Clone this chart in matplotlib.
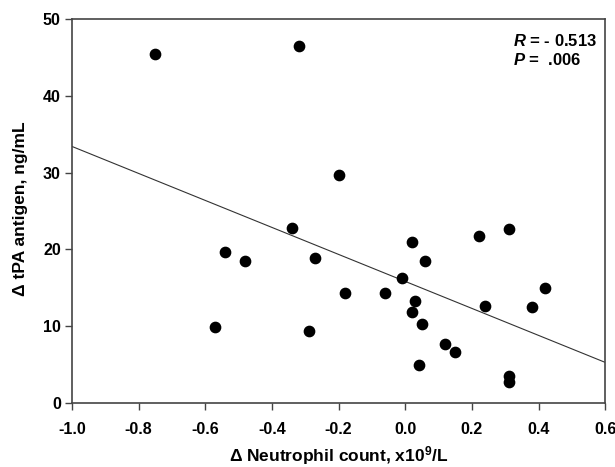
import matplotlib.pyplot as plt

plt.rcParams['font.family'] = ['Liberation Sans', 'DejaVu Sans']
plt.rcParams['font.weight'] = 'bold'
plt.rcParams['axes.unicode_minus'] = False
plt.rcParams['mathtext.fontset'] = 'custom'
plt.rcParams['mathtext.rm'] = 'Liberation Sans:bold'
plt.rcParams['mathtext.bf'] = 'Liberation Sans:bold'
plt.rcParams['mathtext.it'] = 'Liberation Sans:bold:italic'
plt.rcParams['mathtext.default'] = 'rm'

# delta neutrophil count (x10^9/L) vs delta tPA antigen (ng/mL)
neutrophil = [-0.75, -0.32, -0.34, -0.20, -0.54, -0.48, -0.57, -0.29, -0.27,
              0.02, 0.22, 0.31, 0.06, -0.01, -0.18, -0.06, 0.03, 0.02, 0.05,
              0.12, 0.15, 0.04, 0.31, 0.31, 0.24, 0.38, 0.42]
tpa = [45.5, 46.5, 22.7, 29.7, 19.6, 18.5, 9.9, 9.3, 18.9,
       20.9, 21.7, 22.6, 18.4, 16.2, 14.3, 14.3, 13.3, 11.8, 10.3,
       7.6, 6.6, 4.9, 3.5, 2.7, 12.6, 12.5, 15.0]

# regression line as printed
fit_intercept = 15.8
fit_slope = -17.6
x_range = [-1.0, 0.6]

x_ticks = [-1.0, -0.8, -0.6, -0.4, -0.2, 0.0, 0.2, 0.4, 0.6]
y_ticks = [0, 10, 20, 30, 40, 50]

fig = plt.figure(figsize=(6.15, 4.67), dpi=100)
ax = fig.add_axes([0.117, 0.138, 0.867, 0.821])

ax.plot(x_range, [fit_intercept + fit_slope * x for x in x_range],
        color='#333333', lw=0.8)
ax.scatter(neutrophil, tpa, s=55, color='black', zorder=3)

ax.set_xlim(-1.0, 0.6)
ax.set_ylim(0, 50)
ax.set_xticks(x_ticks)
ax.set_xticklabels(['%.1f' % t for t in x_ticks])
ax.set_yticks(y_ticks)
ax.tick_params(direction='out', length=5, width=1, color='#444444',
               labelsize=11.5)
ax.tick_params(axis='x', pad=9)
ax.tick_params(axis='y', pad=3)
for s in ax.spines.values():
    s.set_color('#444444')
    s.set_linewidth(1.2)

fig.text(0.55, 0.011, u'\u0394 Neutrophil count, x10$^{9}$/L', fontsize=12.5,
         fontweight='bold', ha='center', va='baseline')
fig.text(0.034, 0.5535, u'\u0394 tPA antigen, ng/mL', fontsize=12.5,
         fontweight='bold', ha='center', va='center', rotation=90)

ax.text(0.827, 0.9635, r'$\mathit{R}$ = - 0.513', transform=ax.transAxes,
        fontsize=12, va='top', ha='left')
ax.text(0.827, 0.914, r'$\mathit{P}$ =  .006', transform=ax.transAxes,
        fontsize=12, va='top', ha='left')

fig.savefig('out.png', dpi=100)
